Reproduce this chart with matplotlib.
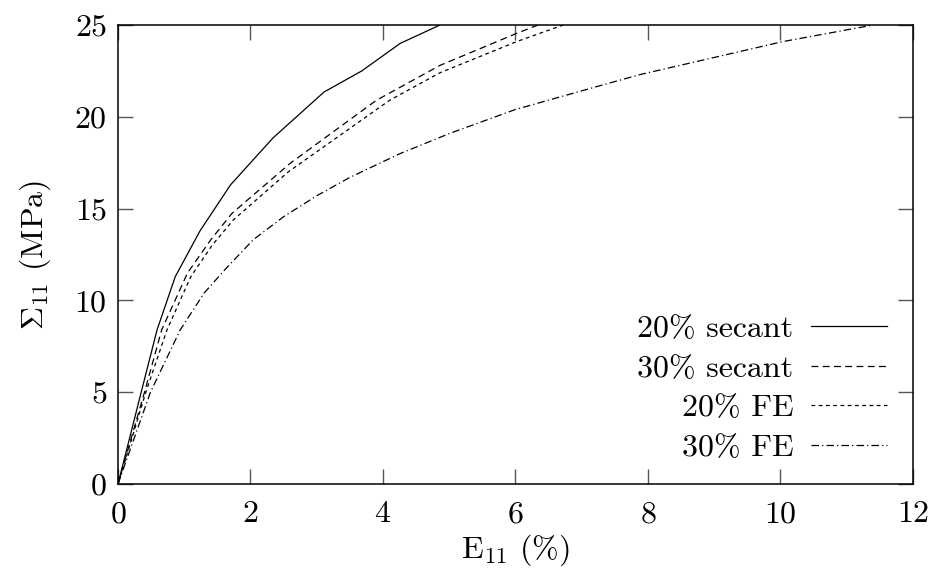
import matplotlib
matplotlib.use("Agg")
import matplotlib.pyplot as plt

plt.rcParams["font.family"] = ["cmr10", "DejaVu Serif"]
plt.rcParams["mathtext.fontset"] = "cm"
plt.rcParams["axes.formatter.use_mathtext"] = True
plt.rcParams["axes.unicode_minus"] = False

# Macroscopic stress-strain response (E11 in %, Sigma11 in MPa)
strain_sec20 = [0.0, 0.35, 0.59, 0.865, 1.24, 1.70, 2.34, 3.11, 3.68, 4.26, 4.86]
stress_sec20 = [0.0, 5.0, 8.4, 11.3, 13.8, 16.3, 18.85, 21.35, 22.5, 24.0, 25.0]

strain_sec30 = [0.0, 0.40, 0.66, 1.05, 1.40, 1.72, 2.60, 3.90, 4.86, 6.02, 6.34]
stress_sec30 = [0.0, 5.0, 8.4, 11.5, 13.3, 14.74, 17.47, 20.9, 22.8, 24.55, 25.0]

strain_fe20 = [0.0, 0.42, 0.74, 1.10, 1.42, 1.74, 2.57, 4.10, 4.86, 6.02, 6.72]
stress_fe20 = [0.0, 5.0, 8.4, 11.3, 13.0, 14.38, 17.0, 20.9, 22.4, 24.1, 25.0]

strain_fe30 = [0.0, 0.49, 0.94, 1.30, 1.62, 2.04, 2.50, 3.00, 3.50, 4.26, 5.01, 6.00, 7.28, 7.88, 10.04, 11.40]
stress_fe30 = [0.0, 5.0, 8.4, 10.4, 11.7, 13.3, 14.56, 15.7, 16.7, 18.0, 19.1, 20.4, 21.7, 22.3, 24.1, 25.0]

labels = ["20% secant", "30% secant", "20% FE", "30% FE"]
x_ticks = [0, 2, 4, 6, 8, 10, 12]
y_ticks = [0, 5, 10, 15, 20, 25]

fig = plt.figure(figsize=(9.44, 5.73), dpi=100)
ax = fig.add_axes([0.125, 0.1553, 0.842, 0.801])

lw = 0.9
ax.plot(strain_sec20, stress_sec20, color="black", lw=lw, label=labels[0])
l2, = ax.plot(strain_sec30, stress_sec30, color="black", lw=lw, label=labels[1])
l2.set_dashes((5.5, 3.5))
l3, = ax.plot(strain_fe20, stress_fe20, color="black", lw=lw, label=labels[2])
l3.set_dashes((3.0, 2.8))
l4, = ax.plot(strain_fe30, stress_fe30, color="black", lw=lw, label=labels[3])
l4.set_dashes((6.0, 2.5, 1.0, 2.5))

fs = 23
ax.set_xlim(0, 12)
ax.set_ylim(0, 25)
ax.set_xticks(x_ticks)
ax.set_yticks(y_ticks)
ax.tick_params(direction="in", length=11, width=1.0, color="#555555",
               top=True, right=True, labelsize=fs)
ax.tick_params(axis="x", pad=12)
ax.tick_params(axis="y", pad=8)
for sp in ax.spines.values():
    sp.set_linewidth(1.1)

ax.set_xlabel(r"E$_{11}$ (%)", fontsize=fs, labelpad=3)
ax.set_ylabel(r"$\Sigma_{11}$ (MPa)", fontsize=fs, labelpad=15)

leg = ax.legend(loc="lower right", bbox_to_anchor=(0.983, 0.02), frameon=False,
                markerfirst=False, fontsize=fs, handlelength=2.35,
                handletextpad=0.56, labelspacing=0.35, borderaxespad=0.0)

fig.savefig("out.png", dpi=100)
